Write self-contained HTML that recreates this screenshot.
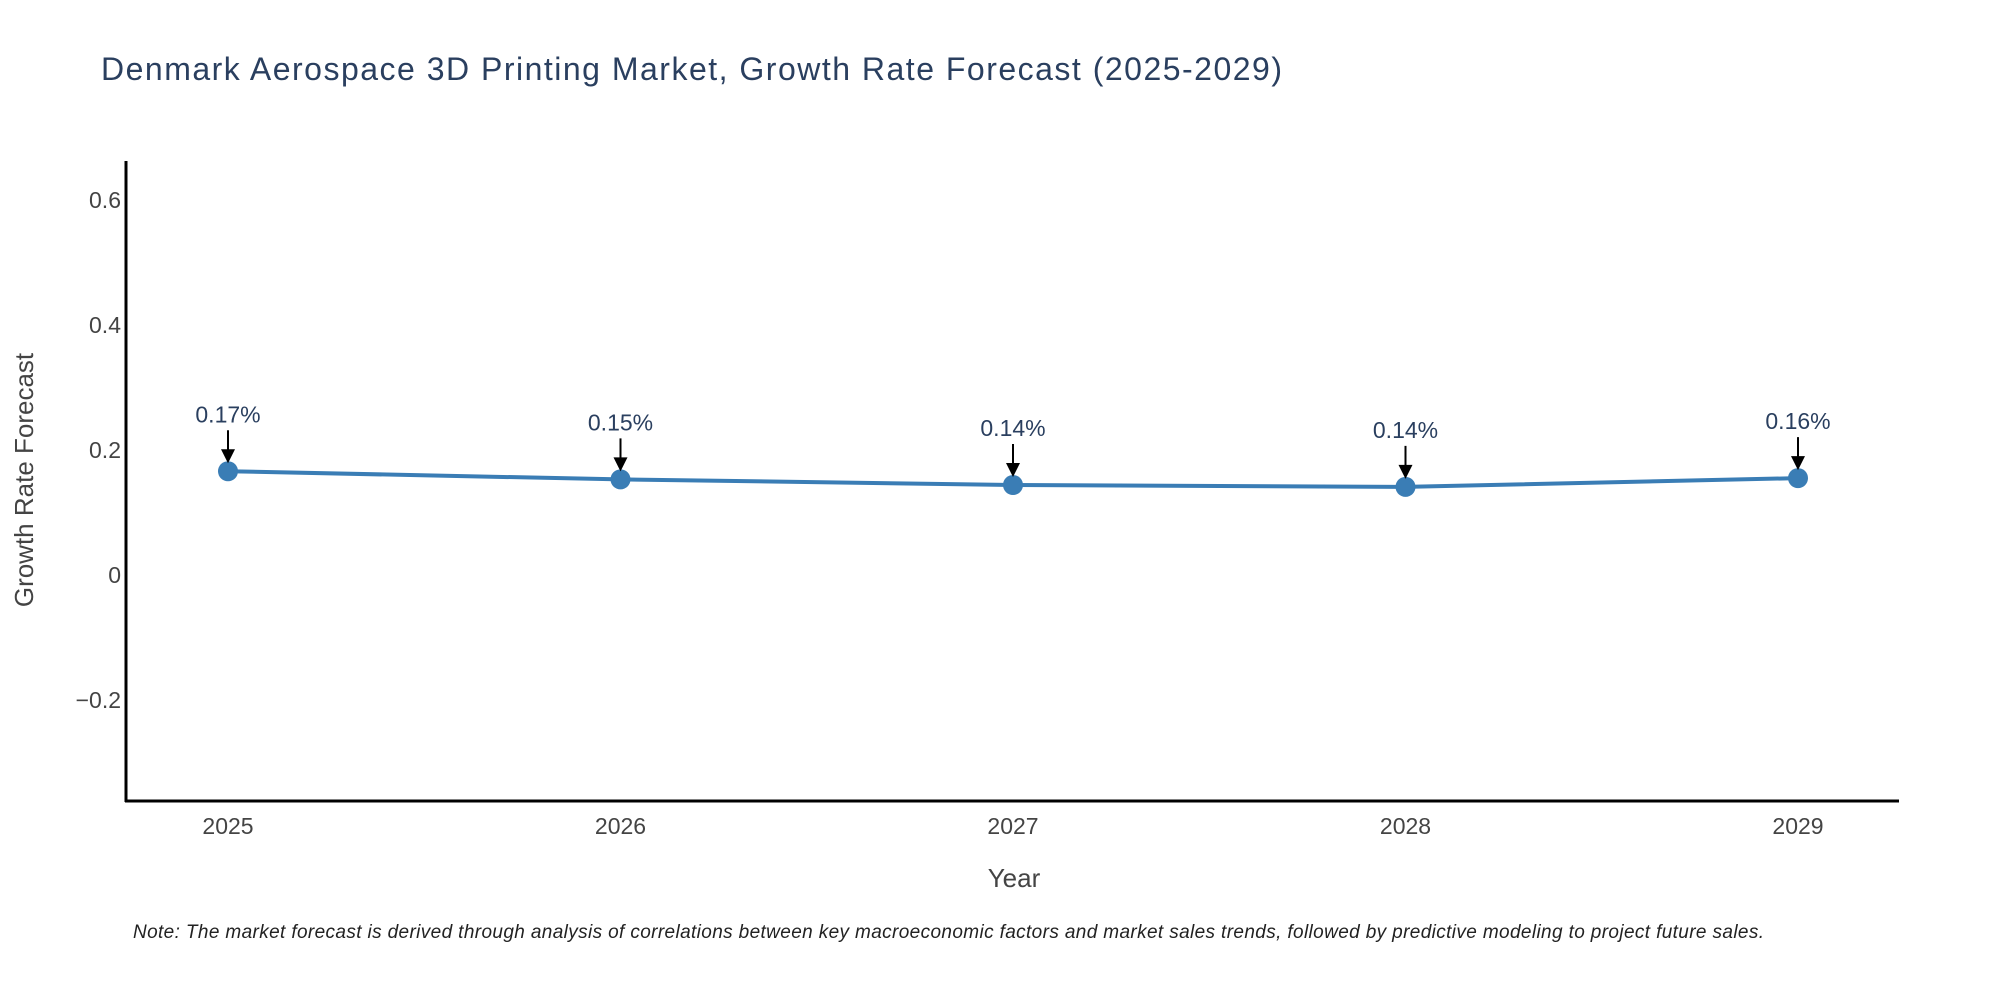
<!DOCTYPE html>
<html><head><meta charset="utf-8">
<style>html,body{margin:0;padding:0;background:#fff}svg{display:block;font-family:"Liberation Sans",sans-serif}</style>
</head><body>
<svg id="chart" width="2000" height="1000" viewBox="0 0 2000 1000">
<text x="101" y="80" font-size="32" fill="#2a3f5f" textLength="1181">Denmark Aerospace 3D Printing Market, Growth Rate Forecast (2025-2029)</text>
<g id="yticks"></g><g id="xticks"></g>
<line x1="126" y1="161" x2="126" y2="802" stroke="#000" stroke-width="3"/>
<line x1="125" y1="801" x2="1899" y2="801" stroke="#000" stroke-width="3"/>
<text x="1014" y="887" font-size="26" fill="#444" text-anchor="middle">Year</text>
<text transform="translate(33,480) rotate(-90)" font-size="26" fill="#444" text-anchor="middle">Growth Rate Forecast</text>
<g id="series"></g>
<text x="133" y="938" font-size="19" font-style="italic" fill="#222" textLength="1631">Note: The market forecast is derived through analysis of correlations between key macroeconomic factors and market sales trends, followed by predictive modeling to project future sales.</text>
</svg>
<script>
const years = ["2025","2026","2027","2028","2029"];
const values = [0.166, 0.153, 0.144, 0.141, 0.155];
const valueLabels = ["0.17%","0.15%","0.14%","0.14%","0.16%"];
const yTicks = [-0.2, 0, 0.2, 0.4, 0.6];
const yTickLabels = ["\u22120.2","0","0.2","0.4","0.6"];
const NS="http://www.w3.org/2000/svg";
function yS(v){return 575-v*625;}
function xS(i){return 228+i*392.5;}
function mk(tag,attrs,parent){const e=document.createElementNS(NS,tag);for(const k in attrs)e.setAttribute(k,attrs[k]);parent.appendChild(e);return e;}
const yt=document.getElementById('yticks');
yTicks.forEach((v,i)=>{const t=mk('text',{x:121,y:yS(v)+8,'font-size':23,fill:'#444','text-anchor':'end'},yt);


t.textContent=yTickLabels[i];});
const xt=document.getElementById('xticks');
years.forEach((y,i)=>{const t=mk('text',{x:xS(i),y:834,'font-size':23,fill:'#444','text-anchor':'middle'},xt);


t.textContent=y;});
const s=document.getElementById('series');
const pl=mk('polyline',{points:values.map((v,i)=>xS(i)+','+yS(v)).join(' '),fill:'none',stroke:'#3a7db5','stroke-width':4},s);


values.forEach((v,i)=>{const x=xS(i),y=yS(v);
const c=mk('circle',{cx:x,cy:y,r:10,fill:'#3a7db5'},s);


const l=mk('line',{x1:x,y1:y-41,x2:x,y2:y-20,stroke:'#000','stroke-width':2},s);


const p=mk('polygon',{points:`${x-7},${y-22} ${x+7},${y-22} ${x},${y-8}`,fill:'#000'},s);


const t=mk('text',{x:x,y:y-49,'font-size':23,fill:'#2a3f5f','text-anchor':'middle'},s);


t.textContent=valueLabels[i];});
</script>
</body></html>
